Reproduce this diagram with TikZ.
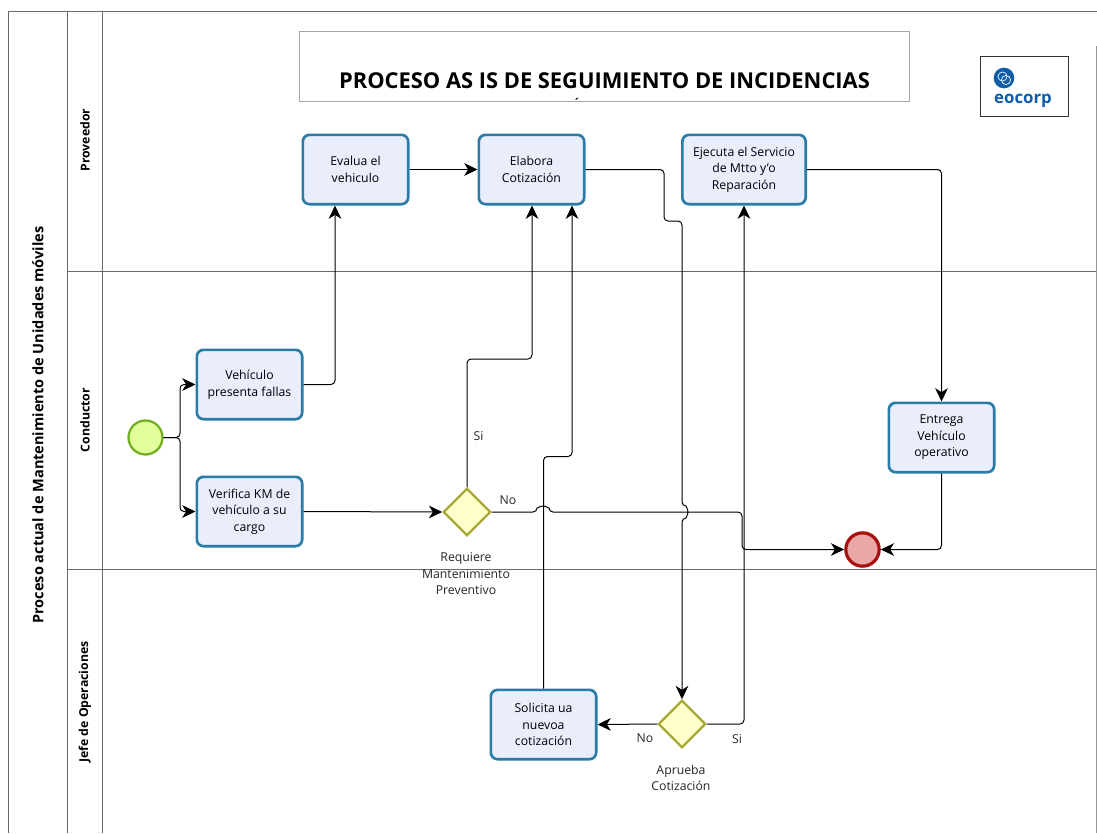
\documentclass[tikz,border=0pt]{standalone}
\usepackage{fontspec}
\setmainfont{Open Sans}
\usetikzlibrary{arrows.meta,shapes.geometric}
\definecolor{taskfill}{HTML}{E9EDFC}
\definecolor{taskline}{HTML}{2A7BA6}
\definecolor{gatefill}{HTML}{FFFFCC}
\definecolor{gateline}{HTML}{A8A832}
\definecolor{startfill}{HTML}{E2FF9C}
\definecolor{startline}{HTML}{72AE22}
\definecolor{endfill}{HTML}{EBA6A6}
\definecolor{endline}{HTML}{A81010}
\definecolor{lanecolor}{HTML}{6A6A6A}
\definecolor{logoblue}{HTML}{0F5CA8}
\begin{document}
\begin{tikzpicture}[x=0.75pt,y=-0.75pt,
  lane/.style={draw=lanecolor, line width=0.65pt},
  lanelabel/.style={rotate=90, font=\fontsize{9.2}{10}\selectfont\bfseries},
  task/.style={draw=taskline, fill=taskfill, line width=2pt, rounded corners=5pt, minimum width=79pt, minimum height=52pt, inner sep=1pt, align=center, font=\fontsize{9.2}{12.4}\selectfont},
  gate/.style={diamond, draw=gateline, fill=gatefill, line width=1.7pt, minimum size=35.5pt, inner sep=0pt},
  startevent/.style={circle, draw=startline, fill=startfill, line width=1.7pt, minimum size=25.5pt, inner sep=0pt},
  endevent/.style={circle, draw=endline, fill=endfill, line width=2.4pt, minimum size=25pt, inner sep=0pt},
  flow/.style={draw=black, line width=0.75pt, rounded corners=3pt, -{Stealth[length=10pt,width=9.5pt,inset=3pt]}},
  textnode/.style={align=center, font=\fontsize{9.2}{12.4}\selectfont, text=black!85}]
  \useasboundingbox (0,0) rectangle (1097,833);
  \fill[white] (0,0) rectangle (1097,833);
  % pool and lanes
  \draw[lane] (8,833) -- (8,11) -- (1097,11);
  \draw[lane] (67,833) -- (67,11);
  \draw[lane] (102,833) -- (102,11);
  \draw[lane] (67,271) -- (1097,271);
  \draw[lane] (67,569) -- (1097,569);
  \draw[draw=lanecolor!70, line width=0.6pt] (1096.5,46) -- (1096.5,833);
  \node [rotate=90, font=\fontsize{10.9}{12}\selectfont\bfseries] (Pool) at (38,425) {Proceso actual de Mantenimiento de Unidades móviles};
  \node [lanelabel] (Proveedor) at (85,140) {Proveedor};
  \node [lanelabel] (Conductor) at (85,420) {Conductor};
  \node [lanelabel] (Jefe) at (85,702) {Jefe de Operaciones};
  % title and logo
  \node [draw=black!35, fill=white, line width=0.6pt, minimum width=458pt, minimum height=53pt, inner sep=0pt] (TitleBox) at (604.5,66.5) {};
  \node [font=\fontsize{16.4}{18}\selectfont\bfseries] (Title) at (604.5,81) {PROCESO AS IS DE SEGUIMIENTO DE INCIDENCIAS};
  \node [font=\fontsize{9}{10}\selectfont\bfseries, inner sep=0pt] (Accent) at (577,103) {´};
  \node [draw=black!80, fill=white, line width=0.7pt, minimum width=66pt, minimum height=45pt, inner sep=0pt] (LogoBox) at (1024,86) {};
  \node [circle, fill=logoblue, minimum size=15.5pt, inner sep=0pt] (LogoMark) at (1004,78) {};
  \draw[white, line width=0.5pt] (1002.5,76.5) circle[radius=3.4pt];
  \draw[white, line width=0.5pt] (1006,80) circle[radius=3.4pt];
  \node [font=\fontsize{12.6}{13}\selectfont\bfseries, text=logoblue, inner sep=0pt] (LogoText) at (1023,100.5) {eocorp};
  % tasks
  \node [task] (Evalua) at (355.5,169.5) {Evalua el\\vehiculo};
  \node [task] (Elabora) at (531.5,169.5) {Elabora\\Cotización};
  \node [task, minimum width=92.5pt] (Ejecuta) at (744,169.5) {Ejecuta el Servicio\\de Mtto y'o\\Reparación};
  \node [task] (Vehiculo) at (249.5,384.5) {Vehículo\\presenta fallas};
  \node [task] (Verifica) at (249.5,511.5) {Verifica KM de\\vehículo a su\\cargo};
  \node [task] (Entrega) at (941.5,437.5) {Entrega\\Vehículo\\operativo};
  \node [task] (Solicita) at (543.5,724.5) {Solicita ua\\nuevoa\\cotización};
  \node [startevent] (Start) at (145.5,437.5) {};
  \node [endevent] (End) at (862.5,549.5) {};
  \node [gate] (Requiere) at (467,512) {};
  \node [gate] (Aprueba) at (682,724) {};
  % labels
  \node [textnode] (RequiereText) at (466,574) {Requiere\\Mantenimiento\\Preventivo};
  \node [textnode] (ApruebaText) at (681,778) {Aprueba\\Cotización};
  \node [textnode] (SiUno) at (478.5,436) {Si};
  \node [textnode] (NoUno) at (508,500.5) {No};
  \node [textnode] (NoDos) at (645,738) {No};
  \node [textnode] (SiDos) at (737,739) {Si};
  % connectors
  \draw[flow] (Start.east) -- (180,437.5) |- (Vehiculo.west);
  \draw[flow] (Start.east) -- (180,437.5) |- (Verifica.west);
  \draw[flow] (Vehiculo.east) -| (335,205.5);
  \draw[flow] (Evalua.east) -- (Elabora.west);
  \draw[flow] (Verifica.east) -- (Requiere.west);
  \draw[flow] (Elabora.east) -| (664,221) -| (Aprueba.north |- 512,506) arc[start angle=90, end angle=-90, radius=4.5pt] -- (Aprueba.north);
  \draw[flow] (Requiere.north) |- (532,359) -- (532,205.5);
  \draw[flow] (Solicita.north) |- (572,456.5) -- (572,205.5);
  \draw[flow] (Requiere.east) -- (537,512) arc[start angle=180, end angle=0, radius=4.5pt] -- (742,512) -- (742,549.5) -- (End.west);
  \draw[flow] (Aprueba.east) -| (Ejecuta.south);
  \draw[flow] (Ejecuta.east) -| (Entrega.north);
  \draw[flow] (Entrega.south) |- (End.east);
  \draw[flow] (Aprueba.west) -- (Solicita.east);
\end{tikzpicture}
\end{document}
